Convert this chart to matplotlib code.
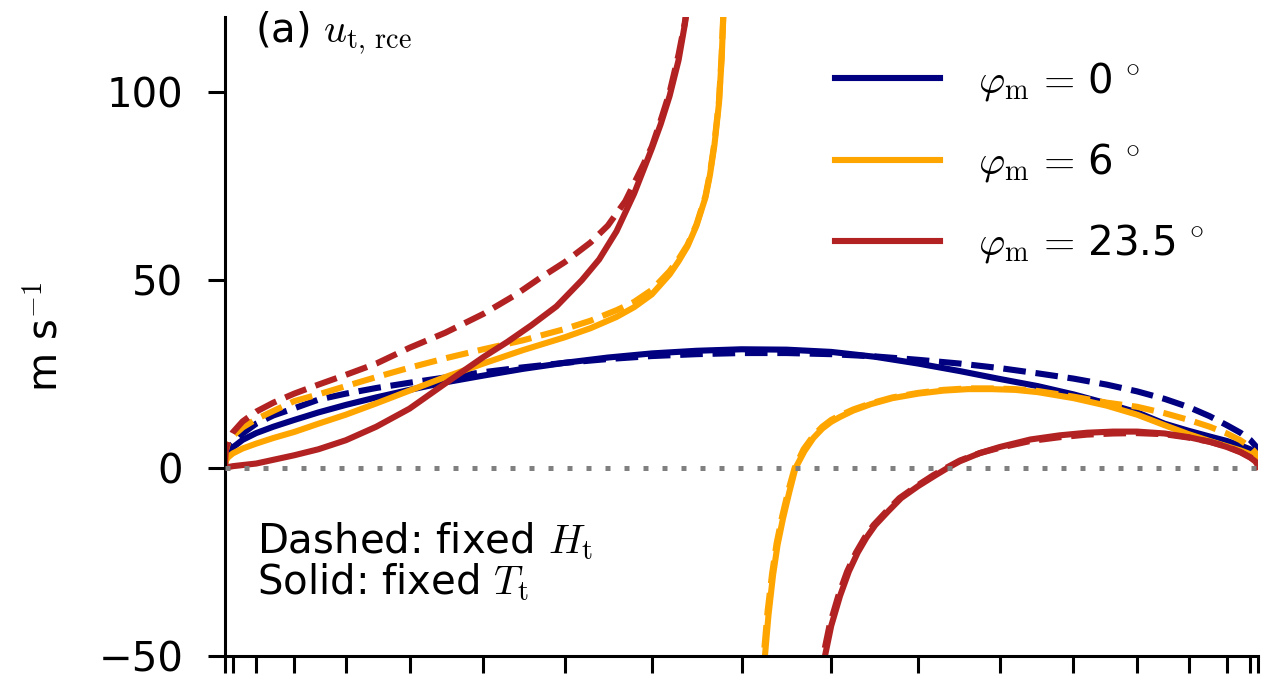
import numpy as np
import matplotlib
matplotlib.use("Agg")
import matplotlib.pyplot as plt
from matplotlib.lines import Line2D

plt.rcParams['font.size'] = 29
plt.rcParams['mathtext.fontset'] = 'cm'

# latitudes (deg) and tropopause wind (m/s)
# phi_m = 0, no singularity
lat_blue = [-90, -87, -84, -80, -75, -70, -65, -60, -55, -50, -45, -40, -35, -30, -25, -20, -15, -10, -5, 0,
            5, 10, 15, 20, 25, 30, 35, 40, 45, 50, 55, 60, 65, 70, 75, 80, 84, 87, 90]
u_blue_T = [0.5, 2.5, 4, 5.5, 7.5, 9.3, 11, 12.8, 14.8, 16.8, 18.8, 20.8, 22.8, 24.6, 26.4, 28, 29.4, 30.5, 31.2, 31.6,
            31.5, 30.9, 29.6, 27.8, 25.8, 23.7, 21.8, 19.6, 17.2, 14.8, 11.8, 9.9, 8.4, 7.2, 6, 5, 4, 3, 1.5]
u_blue_H = [1, 4, 5.2, 6.5, 9.2, 11.8, 14.0, 15.9, 18.2, 19.8, 21.3, 22.7, 24.1, 25.5, 26.8, 28, 29, 29.8, 30.3, 30.6,
            30.6, 30.3, 29.7, 28.8, 27.8, 26.6, 25.2, 23.8, 22.2, 20.4, 18.4, 16.2, 13.8, 11.4, 9.4, 7.5, 6, 4.8, 3]

# phi_m = 6, southern branch (up to the singularity) and northern branch
lat_orange_s = [-90, -87, -84, -80, -75, -70, -65, -60, -55, -50, -45, -40, -35, -30, -25, -20, -17, -14, -12, -10,
                -8, -7, -6, -5, -4, -3.5, -3, -2.5, -2.2, -2, -1.8]
u_orange_T_s = [0.5, 1.8, 2.8, 3.9, 5.2, 6.5, 8, 9.6, 11.8, 14.2, 17.2, 20.6, 24.2, 27.8, 31.4, 34.8, 37.2, 40.2, 42.8, 46.2,
                51.5, 55, 59, 64.5, 72, 78, 86, 97, 109, 121, 135]
u_orange_H_s = [1, 4.5, 6.5, 8.5, 10.8, 13, 15.2, 17.8, 19.6, 21.8, 24.2, 26.7, 29.2, 31.6, 34, 37, 39.2, 42, 44.2, 47.4,
                52.4, 55.6, 59.4, 64.8, 72.4, 78.5, 86.6, 97.7, 110, 122, 136]
lat_orange_T_n = [2.3, 2.6, 3, 3.5, 4, 4.6, 5.3, 6, 7, 8, 9, 10, 11, 12.5, 14.5, 17, 20, 23, 26, 29,
                  32, 35, 40, 45, 50, 55, 60, 65, 70, 75, 80, 84, 87, 90]
u_orange_T_n = [-60, -50, -39, -28.5, -20.5, -13.5, -6.5, 0, 4.5, 8, 10.5, 12.3, 13.6, 15.3, 17, 18.6, 19.8, 20.6, 21, 21,
                20.8, 20.2, 18.6, 16.6, 14.2, 11.4, 9.0, 7.2, 5.8, 4.7, 3.7, 2.9, 2.1, 1.2]
lat_orange_H_n = [2.2, 2.5, 2.9, 3.4, 3.9, 4.5, 5.2, 5.9, 6.9, 8, 9, 10, 11, 12.5, 14.5, 17, 20, 23, 26, 29,
                  32, 35, 40, 45, 50, 55, 60, 65, 70, 75, 80, 84, 87, 90]
u_orange_H_n = [-58, -49, -38, -28, -20, -13, -6, 0, 5, 8.6, 11, 12.8, 14, 15.6, 17.2, 18.8, 20, 20.8, 21.2, 21.2,
                21, 20.5, 19.0, 17.4, 16.3, 14.6, 12.8, 11, 9.2, 7.4, 5.6, 4.2, 3, 1.8]

# phi_m = 23.5
lat_red_T_s = [-90, -85, -80, -75, -70, -65, -60, -55, -50, -45, -40, -35, -30, -27, -24, -21, -18, -16, -14, -12,
               -10, -9, -8, -7, -6.3, -6, -5.7]
u_red_T_s = [0, 0.2, 0.5, 0.8, 1.2, 2.2, 3.4, 5.0, 7.4, 11.0, 15.8, 22.5, 29.5, 33.5, 38, 43, 50, 55.5, 63, 73,
             85, 91.5, 99, 108.5, 118, 123, 129]
lat_red_H_s = [-90, -87, -84, -80, -75, -70, -65, -60, -55, -50, -45, -40, -35, -30, -26, -23, -20, -17, -15, -13,
               -11, -10, -9, -8, -7, -6.3, -6, -5.7]
u_red_H_s = [1, 4.5, 7, 9.5, 12.4, 15, 17.4, 19.8, 22.2, 24.8, 27.8, 32.0, 36, 41, 46, 50.5, 54.8, 60, 64.5, 71,
             80.5, 85.5, 92.5, 100, 110, 118.5, 123.5, 129.5]
lat_red_T_n = [8.8, 9.3, 10, 11, 12, 13, 14, 15, 16.5, 18, 20, 22, 23.5, 25, 27.5, 30, 34, 38, 42, 46,
               50, 55, 60, 65, 70, 75, 80, 84, 87, 90]
u_red_T_n = [-60, -50, -42, -34, -27.5, -22.5, -18.5, -15.2, -11.5, -8, -4.8, -2.0, 0, 1.8, 4.0, 5.6, 7.6, 8.7, 9.4, 9.7,
             9.7, 9.2, 8.2, 7, 5.6, 4.2, 2.8, 1.8, 1, 0.3]
lat_red_H_n = [8.6, 9.1, 9.8, 10.8, 11.8, 12.8, 13.8, 14.8, 16.3, 17.8, 19.8, 21.8, 23.3, 25, 27.5, 30, 34, 38, 42, 46,
               50, 55, 60, 65, 70, 75, 80, 84, 87, 90]
u_red_H_n = [-60, -50, -42, -34, -27.5, -22.5, -18.5, -15.2, -11.5, -8, -4.8, -1.9, 0, 2.0, 4.0, 5.4, 7.2, 8.2, 8.9, 9.2,
             9.3, 9, 8.1, 7, 5.7, 4.3, 2.9, 1.9, 1.1, 0.4]

phi_m_labels = ['0', '6', '23.5']
colors = ['navy', 'orange', 'firebrick']
lw = 4.4


def fwd(x):
    return np.sin(np.deg2rad(x))


def inv(y):
    return np.rad2deg(np.arcsin(np.clip(y, -1, 1)))


fig = plt.figure(figsize=(12.62, 6.79), dpi=100)
ax = fig.add_axes([225 / 1262, 23 / 679, 1033 / 1262, 639 / 679])
ax.set_xscale('function', functions=(fwd, inv))

# fixed T_t solid, fixed H_t dashed
ax.plot(lat_blue, u_blue_T, color=colors[0], lw=lw)
ax.plot(lat_blue, u_blue_H, color=colors[0], lw=lw, ls='--')
ax.plot(lat_orange_s, u_orange_T_s, color=colors[1], lw=lw)
ax.plot(lat_orange_s, u_orange_H_s, color=colors[1], lw=lw, ls='--')
ax.plot(lat_orange_T_n, u_orange_T_n, color=colors[1], lw=lw)
ax.plot(lat_orange_H_n, u_orange_H_n, color=colors[1], lw=lw, ls='--')
ax.plot(lat_red_T_s, u_red_T_s, color=colors[2], lw=lw)
ax.plot(lat_red_H_s, u_red_H_s, color=colors[2], lw=lw, ls='--')
ax.plot(lat_red_T_n, u_red_T_n, color=colors[2], lw=lw)
ax.plot(lat_red_H_n, u_red_H_n, color=colors[2], lw=lw, ls='--')

ax.axhline(0, color='gray', lw=3.6, ls=(0, (1, 2.8)), zorder=5)

ax.set_xlim(-90, 90)
ax.set_ylim(-50, 120)
ax.set_xticks(np.arange(-90, 91, 10))
ax.set_xticklabels([])
ax.set_yticks([-50, 0, 50, 100])
ax.spines['top'].set_visible(False)
ax.spines['right'].set_visible(False)
for s in ['left', 'bottom']:
    ax.spines[s].set_linewidth(2.2)
ax.tick_params(length=12, width=2.2, pad=18)

ax.set_ylabel(r'm s$^{-1}$')
ax.yaxis.set_label_coords(-0.154, 0.5)

ax.text(0.029, 1.012, r'(a) $u_{\rm t,\,rce}$', transform=ax.transAxes, va='top', ha='left')
ax.text(0.031, 0.213, 'Dashed: fixed $H_{\\rm t}$\nSolid: fixed $T_{\\rm t}$',
        transform=ax.transAxes, va='top', ha='left', linespacing=1.0)

handles = [Line2D([], [], color=c, lw=lw) for c in colors]
labels = [r'$\varphi_{\rm m}\,=\,$' + p + r'$\,^\circ$' for p in phi_m_labels]
ax.legend(handles, labels, loc='upper right', bbox_to_anchor=(0.964, 0.958), borderaxespad=0,
          frameon=False, handlelength=2.6, handletextpad=0.95, labelspacing=0.95)

fig.savefig('out.png', dpi=100)
